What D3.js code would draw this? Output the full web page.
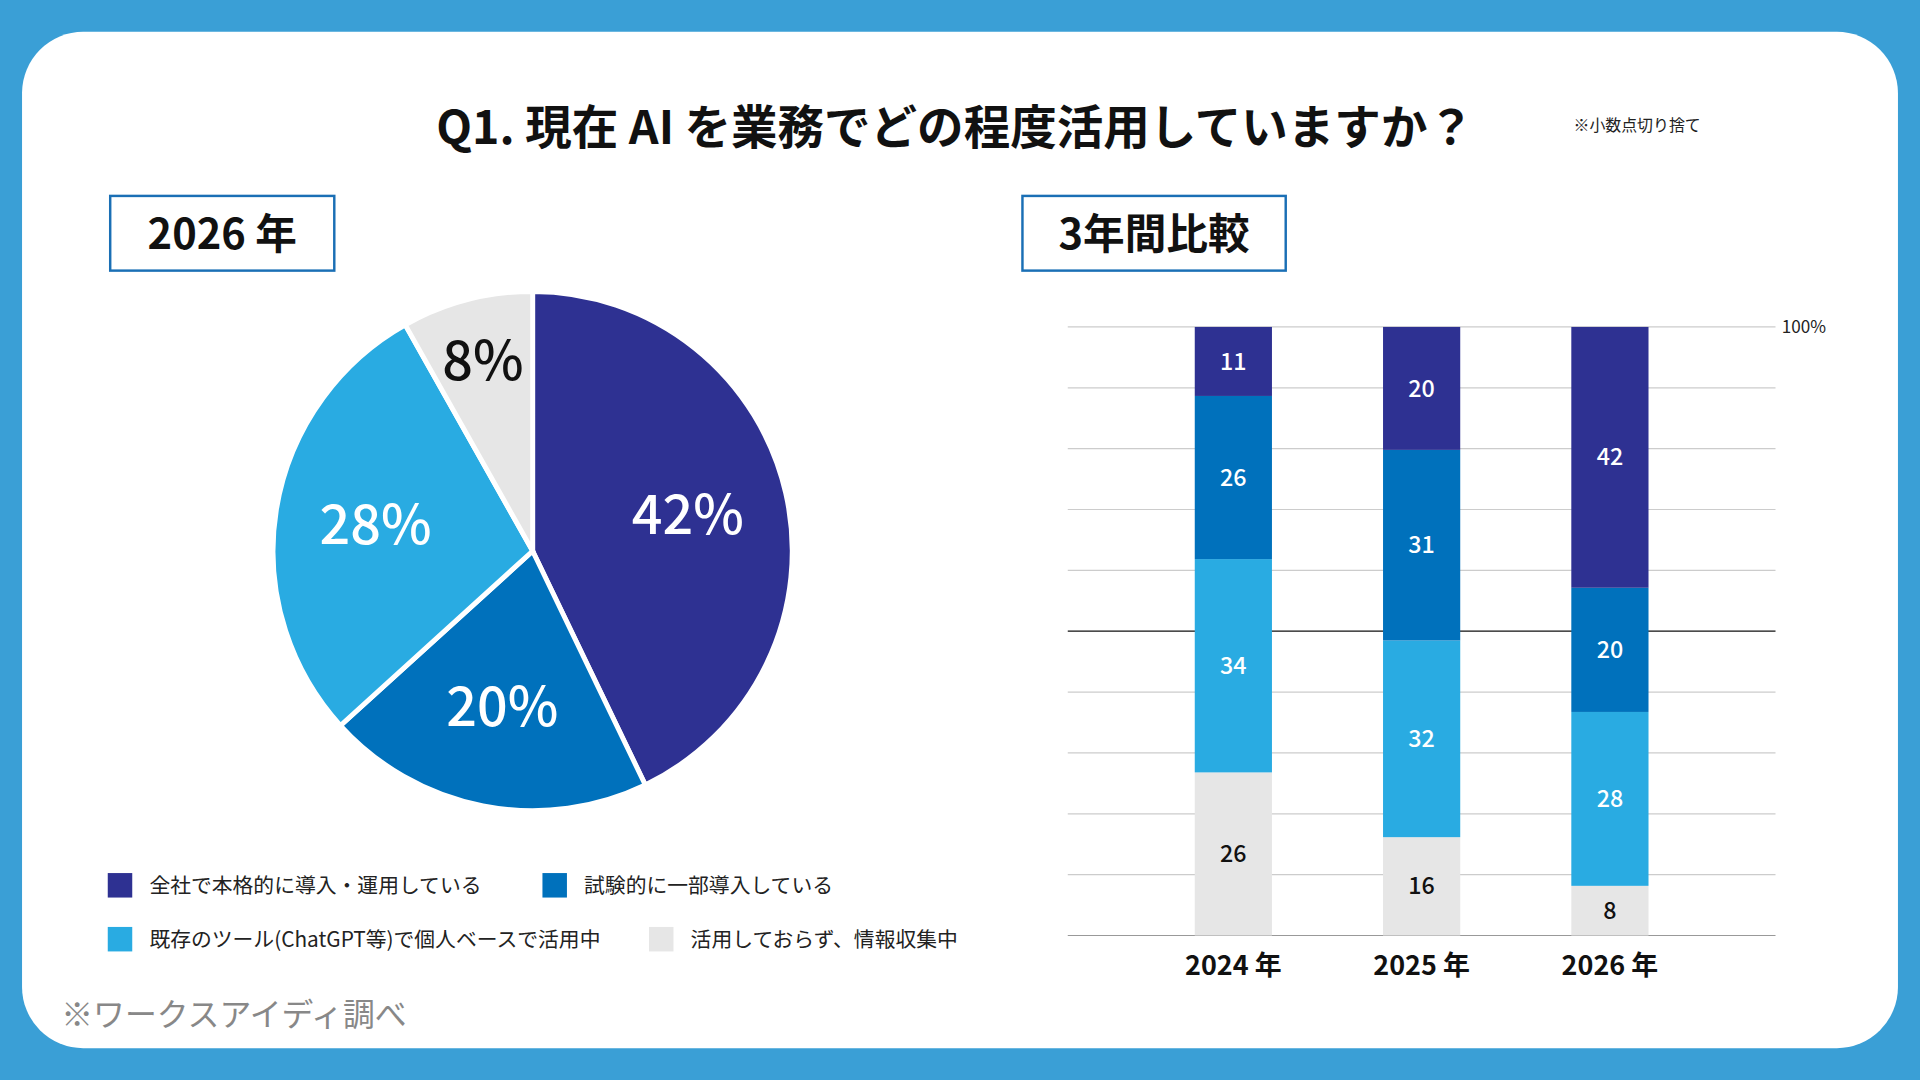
<!DOCTYPE html>
<html><head><meta charset="utf-8">
<script src="https://cdn.jsdelivr.net/npm/d3@7"></script>
<style>
body{margin:0;background:#3a9fd6;}
text{font-family:"Noto Sans CJK JP","Noto Sans",sans-serif;}
</style></head>
<body>
<script>
// data
var categories = ["全社で本格的に導入・運用している", "試験的に一部導入している", "既存のツール(ChatGPT等)で個人ベースで活用中", "活用しておらず、情報収集中"];
var colors = ["#2e3192", "#0071bc", "#29abe2", "#e6e6e6"];
var pieValues = [42, 20, 28, 8];
var years = ["2024 年", "2025 年", "2026 年"];
var s0 = [11, 20, 42];
var s1 = [26, 31, 20];
var s2 = [34, 32, 28];
var s3 = [26, 16, 8];

var svg = d3.select("body").append("svg")
  .attr("width", 1920).attr("height", 1080)
  .attr("viewBox", "0 0 1568 882").style("display", "block");

svg.append("rect").attr("width", 1568).attr("height", 882).attr("fill", "#3a9fd6");
svg.append("rect").attr("x", 18).attr("y", 26).attr("width", 1532).attr("height", 830)
  .attr("rx", 50).attr("fill", "#fff");

// title
svg.append("text").attr("x", 780).attr("y", 118).attr("text-anchor", "middle")
  .attr("font-size", 38).attr("font-weight", 700).attr("fill", "#111")
  .text("Q1. 現在 AI を業務でどの程度活用していますか？");
svg.append("text").attr("x", 1285).attr("y", 107).attr("font-size", 13).attr("fill", "#222")
  .text("※小数点切り捨て");

// boxes
function box(x, w, label) {
  svg.append("rect").attr("x", x).attr("y", 160).attr("width", w).attr("height", 61)
    .attr("fill", "#fff").attr("stroke", "#1a6fb5").attr("stroke-width", 2);
  svg.append("text").attr("x", x + w / 2).attr("y", 203).attr("text-anchor", "middle")
    .attr("font-size", 34).attr("font-weight", 700).attr("fill", "#111").text(label);
}
box(90, 183, "2026 年");
box(835, 215, "3年間比較");

// pie
var pieG = svg.append("g").attr("transform", "translate(435,450)");
var arcs = d3.pie().sort(null)(pieValues);
var arc = d3.arc().innerRadius(0).outerRadius(212);
var labelArc = d3.arc().innerRadius(130).outerRadius(130);
pieG.selectAll("path").data(arcs).enter().append("path")
  .attr("d", arc).attr("fill", (d, i) => colors[i])
  .attr("stroke", "#fff").attr("stroke-width", 4);
pieG.selectAll("text.pl").data(arcs).enter().append("text")
  .attr("transform", (d, i) => {
    var c = i === 3 ? d3.arc().innerRadius(160).outerRadius(160).centroid(d) : labelArc.centroid(d);
    return "translate(" + c + ")";
  })
  .attr("text-anchor", "middle").attr("dy", "0.35em")
  .attr("font-family", "Roboto, sans-serif").attr("font-weight", 500).attr("font-size", 44)
  .attr("fill", (d, i) => i === 3 ? "#111" : "#fff")
  .text(d => d.data + "%");

// legend
var legPos = [[88, 713], [443, 713], [88, 757], [530, 757]];
categories.forEach(function (c, i) {
  svg.append("rect").attr("x", legPos[i][0]).attr("y", legPos[i][1])
    .attr("width", 20).attr("height", 20).attr("fill", colors[i]);
  svg.append("text").attr("x", legPos[i][0] + 34).attr("y", legPos[i][1] + 16)
    .attr("font-size", 17).attr("fill", "#222").text(c);
});

svg.append("text").attr("x", 50).attr("y", 838).attr("font-size", 26).attr("fill", "#888")
  .text("※ワークスアイディ調べ");

// bar chart
var rows = years.map((y, i) => ({year: y, a: s0[i], b: s1[i], c: s2[i], d: s3[i]}));
var keys = ["a", "b", "c", "d"];
var stack = d3.stack().keys(keys.slice().reverse()).offset(d3.stackOffsetExpand)(rows);
var x = d3.scaleBand().domain(years).range([885, 1437]).padding(0.59);
var y = d3.scaleLinear().domain([0, 1]).range([764, 267]);

var grid = svg.append("g");
d3.range(0, 11).forEach(function (k) {
  grid.append("line").attr("x1", 872).attr("x2", 1450)
    .attr("y1", y(k / 10)).attr("y2", y(k / 10))
    .attr("stroke", k === 5 ? "#111" : (k === 0 ? "#999" : "#ccc")).attr("stroke-width", 1);
});
svg.append("text").attr("x", 1455).attr("y", y(1) + 5).attr("font-size", 14)
  .attr("font-family", "Roboto, sans-serif").attr("fill", "#222").text("100%");

var barColors = {a: colors[0], b: colors[1], c: colors[2], d: colors[3]};
stack.forEach(function (layer) {
  var g = svg.append("g");
  g.selectAll("rect").data(layer).enter().append("rect")
    .attr("x", d => x(d.data.year)).attr("width", x.bandwidth())
    .attr("y", d => y(d[1])).attr("height", d => y(d[0]) - y(d[1]))
    .attr("fill", barColors[layer.key]);
  g.selectAll("text").data(layer).enter().append("text")
    .attr("x", d => x(d.data.year) + x.bandwidth() / 2)
    .attr("y", d => (y(d[0]) + y(d[1])) / 2).attr("dy", "0.35em")
    .attr("text-anchor", "middle").attr("font-size", 19).attr("font-weight", 500)
    .attr("font-family", "Roboto, sans-serif")
    .attr("fill", layer.key === "d" ? "#111" : "#fff")
    .text(d => d.data[layer.key]);
});

svg.append("g").selectAll("text").data(years).enter().append("text")
  .attr("x", d => x(d) + x.bandwidth() / 2).attr("y", 796)
  .attr("text-anchor", "middle").attr("font-size", 22).attr("font-weight", 700)
  .attr("fill", "#111").text(d => d);
</script>
</body></html>
